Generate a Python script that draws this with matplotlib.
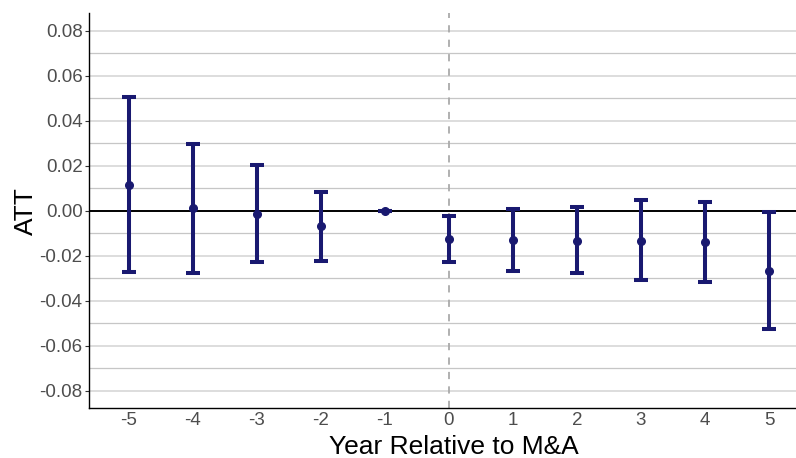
import matplotlib
matplotlib.use("Agg")
import matplotlib.pyplot as plt
from matplotlib.ticker import MultipleLocator, FixedLocator

years = [-5, -4, -3, -2, -1, 0, 1, 2, 3, 4, 5]
att = [0.0116, 0.0011, -0.0015, -0.0069, 0.0, -0.0126, -0.0132, -0.0133, -0.0133, -0.0139, -0.0267]
upper = [0.0504, 0.0296, 0.0202, 0.0084, 0.0, -0.0022, 0.0006, 0.0015, 0.0046, 0.0039, -0.0007]
lower = [-0.0274, -0.0275, -0.0229, -0.0224, 0.0, -0.0228, -0.0268, -0.0277, -0.0309, -0.0315, -0.0527]
yticks = [-0.08, -0.06, -0.04, -0.02, 0.00, 0.02, 0.04, 0.06, 0.08]
ytick_labels = ["-0.08", "-0.06", "-0.04", "-0.02", "0.00", "0.02", "0.04", "0.06", "0.08"]

plt.rcParams['font.family'] = ['Liberation Sans', 'DejaVu Sans']

fig = plt.figure(figsize=(7.96, 4.58), dpi=100)
ax = fig.add_axes([0.1124, 0.1085, 0.8876, 0.8631])

ax.set_xlim(-5.61, 5.42)
ax.set_ylim(-0.0878, 0.0879)

ax.yaxis.set_major_locator(FixedLocator(yticks))
ax.set_yticklabels(ytick_labels)
ax.yaxis.set_minor_locator(MultipleLocator(0.01))
ax.set_xticks(years)
ax.set_xticklabels([str(y) for y in years])

ax.grid(True, axis='y', which='major', color='#dadada', linewidth=1.3, zorder=0)
ax.grid(True, axis='y', which='minor', color='#c6c6c6', linewidth=0.9, zorder=0)
ax.grid(False, axis='x')

ax.axhline(0, color='black', linewidth=1.4, zorder=2)
ax.axvline(0, color='#aaaaaa', linewidth=1.3, linestyle=(0, (4, 4)), zorder=2)

yerr = [[a - l for a, l in zip(att, lower)], [u - a for a, u in zip(att, upper)]]
ax.errorbar(years, att, yerr=yerr, fmt='o', color='#191970', ecolor='#191970',
            elinewidth=2.9, capsize=4.8, capthick=2.9, markersize=5.5, zorder=3)

for s in ['top', 'right']:
    ax.spines[s].set_visible(False)
ax.spines['left'].set_color('black')
ax.spines['bottom'].set_color('black')
ax.spines['left'].set_linewidth(1.0)
ax.spines['bottom'].set_linewidth(1.0)

ax.tick_params(axis='y', which='major', length=3, color='#333333', labelsize=13.5, labelcolor='#4d4d4d', pad=2)
ax.tick_params(axis='y', which='minor', length=0)
ax.tick_params(axis='x', which='major', length=0, labelsize=13.5, labelcolor='#4d4d4d', pad=3)

ax.set_xlabel('Year Relative to M&A', fontsize=19, color='black', labelpad=4)
ax.set_ylabel('ATT', fontsize=19, color='black', labelpad=1)
ax.xaxis.set_label_coords(0.516, -0.06, transform=None) if False else None
ax.xaxis.label.set_x(0.516)

fig.savefig('out.png', dpi=100)
